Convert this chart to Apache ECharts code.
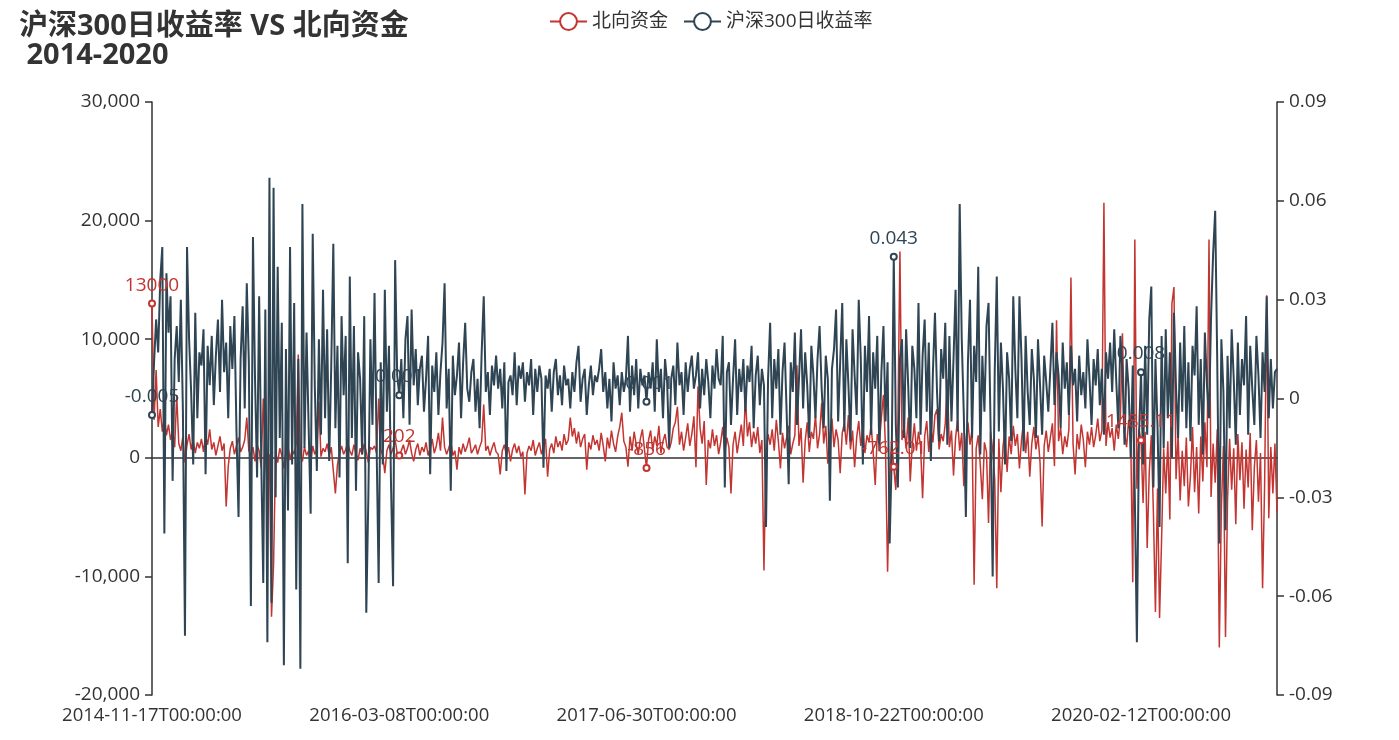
<!DOCTYPE html>
<html>
<head>
<meta charset="utf-8">
<title>沪深300日收益率 VS 北向资金</title>
<script src="https://cdn.jsdelivr.net/npm/echarts/dist/echarts.min.js"></script>
<style>
  html, body { margin: 0; padding: 0; background: #fff; }
  #main { width: 1399px; height: 740px; }
</style>
</head>
<body>
<div id="main"></div>
<script>
// 北向资金 (left axis)
const northbound = [
  13000, 3200, 7400, 2600, 4100, 2200, 3500, 1900, 2800, 1500, 2300, 900,
  5300, 1200, 600, 1800, -400, 1100, 2000, 700, 1500, 400, 1300, 800,
  1600, 500, 1900, 1100, 2400, 700, 1300, 200, 1000, 1800, 600, 1200,
  -4100, -700, 800, 1400, 300, 1000, 1700, 500, 900, 1500, 3400, 600,
  200, 900, -300, 1100, 600, -800, 5000, 400, -2200, 300, -13400, -9000,
  500, -400, 800, 200, -900, 600, 1000, -200, 700, 300, 1200, 8700,
  400, -300, 900, 200, 600, -500, 1000, 300, 700, 4700, 100, 800,
  500, 1200, 200, 900, -1100, -3000, -600, 400, 1000, 300, 700, 1300,
  600, 200, 1100, 400, -200, 800, 300, 1200, 500, -400, 900, 700,
  1000, 400, 5000, 700, 200, -1300, 600, 1100, 300, 800, 1500, 400,
  202, 600, 1100, 300, 800, 1500, 400, -300, 700, 1200, 200, 900,
  500, 1300, 200, 800, 1600, 400, 1000, 2100, 600, 3400, 900, 300,
  800, 1400, 200, 600, -1000, 900, 300, 1200, 500, 1000, 1700, 400,
  700, 1100, 300, 900, 1400, 4500, 600, 1000, 200, 800, 1300, 500,
  300, -1400, 600, 1100, 200, 900, -300, 700, 1200, 400, 1000, 100,
  500, -3100, 400, 1000, 600, 1500, 200, 800, 1300, 300, 900, 1600,
  -1600, 700, 1200, 400, 1800, 900, 1400, 600, 2000, 1100, 1500, 3400,
  1800, 2500, 1200, 2200, 900, 1600, 2000, -1000, 1300, 700, 1900, 1100,
  1500, 600, 2100, 1000, -300, 1700, 800, 2300, 1200, 500, 1800, 2600,
  3800, 1400, 900, -750, 1800, 600, 2200, 1100, 300, 1600, 2400, 700,
  -856, 1500, 2300, 600, 1800, 1000, 2700, 400, 1400, 2000, 900, 700,
  1300, 2500, 3000, 4300, 1100, 2200, 600, 1700, 2900, 1000, 2000, 3500,
  -800, 6000, 2500, 1200, 3100, -2300, 1500, 800, 2400, 1000, 1900, 300,
  1300, 2600, 500, 1700, 900, -3000, 1100, 2200, 400, 1600, 2800, 1000,
  5100, 1800, 3000, 900, 2200, 1200, 2600, 400, 1500, -9500, 600, 2000,
  1100, 2400, 600, 3200, 1400, -900, 2100, 800, 1700, 2700, 300, 1200,
  1900, 7800, 1000, 2500, -2100, 1400, 3000, 500, 2200, 1600, 3600, 800,
  2000, 4600, 1200, 2700, -500, 1800, 3300, 900, 2400, 1500, -1300, 2100,
  2900, 1100, 3600, 700, 2300, -800, 1700, 3100, 1000, 2500, 400, 1900,
  1300, 2800, 500, -2300, 2000, 1200, 3400, 5300, 800, -9600, -1800, 1500,
  -762.01, -2700, 3100, 17400, 1500, 2600, 800, 3400, -2000, 1200, 2900, 600,
  2200, 1000, -3400, 1800, 3100, 500, 2500, 1300, 3600, 4100, 700, 2000,
  1400, 2900, 6600, 900, 2300, -1500, 1700, 3200, 600, 2100, -2400, 1500,
  3000, 1100, 2400, -10700, 800, 1900, -600, -3500, 1300, 500, -5500, 2200,
  700, -1800, -11000, 1600, -2900, 900, 2400, -1200, 1800, 300, 2700, 1000,
  2000, -900, 1500, 3100, 400, 2200, -1600, 1200, 2600, 700, 1900, -400,
  -5800, 1000, 2300, 500, 1700, 2900, -700, 11600, 1400, 2500, 300, 1800,
  900, 2400, 15200, 1200, -1400, 2000, 700, 2800, 1500, -800, 2200, 1100,
  2600, 900, 1900, 3300, 1400, 2300, 21500, 1000, 3000, 1700, 2500, 600,
  2800, 1600, 3500, 10500, 2100, 900, 3200, 1800, -10500, 18400, -2600, 2400,
  1485.11, -3800, 2200, -7600, -1200, 1900, -4500, -13000, -2600, -13500, -6800, 800,
  -3000, 1400, -5200, 13000, 14400, -1800, 2000, -3600, 600, -2400, 1700, -4100,
  -1500, 2600, -2900, 900, -4700, 1800, -2000, 3000, -800, 18400, -3300, 1200,
  -2100, 2400, -16000, -4200, 1000, -15100, -3500, 1600, -2700, 800, -5600, 2000,
  -1900, 1300, -4300, 700, -2500, 2100, -6100, -800, 1500, -3700, 400, -11000,
  -2200, 13700, -5100, 900, -3000, 1200, -4600
];

// 沪深300日收益率 (right axis)
const hs300Return = [
  -0.005, 0.011, 0.024, 0.014, 0.036, 0.046, -0.041, 0.038, 0.02, 0.031, -0.025, 0.012,
  0.022, 0.005, 0.03, -0.004, -0.072, 0.046, 0.018, 0.002, -0.02, 0.026, -0.006, 0.014,
  0.01, 0.021, -0.023, 0.016, 0.004, 0.019, -0.002, 0.013, 0.024, 0.002, 0.03, 0.008,
  0.017, -0.006, 0.022, 0.009, 0.025, -0.01, -0.036, 0.012, 0.028, -0.003, 0.035, 0.011,
  -0.063, 0.049, 0.006, -0.024, 0.031, -0.018, -0.056, 0.027, -0.074, 0.067, -0.062, 0.064,
  -0.03, 0.04, -0.012, 0.023, -0.081, 0.015, -0.034, 0.046, -0.02, 0.029, -0.058, 0.012,
  -0.082, 0.059, -0.015, 0.02, -0.008, -0.035, 0.05, 0.004, -0.022, 0.018, -0.011, 0.033,
  -0.006, 0.021, -0.019, 0.01, 0.047, -0.009, 0.016, -0.024, 0.025, 0.001, 0.019, -0.05,
  0.037, -0.012, 0.022, -0.028, 0.014, 0.006, -0.017, 0.025, -0.065, -0.03, 0.018, -0.008,
  0.032, -0.014, -0.056, 0.011, -0.02, 0.033, -0.004, 0.016, -0.026, -0.057, 0.042, 0.007,
  0.001, 0.012, -0.006, 0.018, 0.025, -0.008, 0.027, 0.004, 0.015, -0.002, 0.009, 0.013,
  -0.004, 0.006, 0.019, -0.023, 0.01, 0.002, 0.014, -0.005, 0.008, 0.017, 0.035, -0.003,
  0.009, -0.028, 0.013, 0.001, 0.007, 0.017, -0.006, 0.011, 0.023, 0.003, -0.001, 0.008,
  0.012, -0.004, 0.006, -0.009, 0.014, 0.031, 0.002, 0.008, -0.005, 0.01, 0.004, 0.013,
  0.003, 0.009, -0.003, 0.011, -0.022, 0.005, 0.007, 0.001, 0.014, -0.002, 0.01, 0.006,
  0.011, -0.001, 0.008, 0.004, 0.012, -0.005, 0.009, 0.002, 0.01, 0.006, -0.021, 0.007,
  0.003, 0.009, -0.004, 0.008, 0.012, 0.001, 0.007, -0.002, 0.01, 0.004, 0.006, -0.003,
  0.008, 0.002, 0.011, 0.016, -0.001, 0.006, 0.009, -0.005, 0.004, 0.01, 0.001, 0.007,
  0.005, 0.009, 0.015, 0.002, 0.008, -0.003, 0.006, -0.007, 0.011, 0.003, 0.007, -0.002,
  0.008, 0.002, 0.006, 0.019, -0.004, 0.01, 0.001, 0.012, -0.003, 0.009, 0.004, 0.007,
  -0.001, 0.008, 0.003, 0.011, -0.004, 0.018, 0.002, 0.009, -0.006, 0.012, 0.005, -0.015,
  0.006, 0.01, -0.002, 0.017, 0.004, 0.008, -0.005, 0.011, 0.002, 0.009, 0.013, 0.003,
  0.007, 0.014, -0.003, 0.009, 0.001, 0.012, 0.005, -0.006, 0.01, 0.003, 0.015, 0.006,
  0.004, 0.019, -0.027, 0.008, 0.011, -0.008, 0.006, 0.018, -0.005, 0.009, 0.002, 0.012,
  -0.004, 0.01, 0.005, 0.016, -0.009, 0.007, 0.013, -0.002, 0.009, 0.004, -0.039, 0.006,
  0.023, -0.006, 0.012, 0.003, 0.015, -0.011, 0.008, 0.017, -0.004, -0.026, 0.011, 0.002,
  0.02, -0.008, 0.006, 0.021, -0.003, 0.014, 0.004, -0.012, 0.016, 0.007, -0.006, 0.012,
  0.022, 0.003, -0.009, 0.013, 0.006, -0.031, 0.009, 0.015, 0.027, -0.007, 0.011, 0.029,
  -0.01, 0.018, 0.004, -0.013, 0.021, 0.007, -0.005, 0.03, 0.012, -0.02, 0.016, 0.002,
  0.025, -0.011, 0.014, 0.003, 0.019, -0.016, 0.008, 0.022, -0.007, 0.011, -0.044, -0.018,
  0.043, -0.008, -0.027, 0.012, 0.018, -0.012, 0.021, 0.004, -0.015, 0.016, 0.009, -0.006,
  0.029, -0.011, 0.013, 0.024, -0.004, 0.017, -0.019, 0.008, 0.026, 0.002, -0.013, 0.015,
  0.006, 0.023, -0.014, 0.019, -0.007, 0.012, 0.033, -0.01, 0.059, 0.018, -0.005, -0.036,
  0.011, 0.03, -0.012, 0.016, 0.005, 0.04, -0.017, 0.013, -0.004, 0.022, 0.029, -0.009,
  -0.054, 0.008, 0.037, -0.01, 0.017, 0.003, -0.02, 0.014, 0.006, -0.013, 0.031, 0.009,
  -0.006, 0.031, 0.012, -0.016, 0.019, 0.002, -0.008, 0.015, 0.006, -0.012, 0.018, 0.004,
  -0.011, 0.013, 0.005, -0.004, 0.009, 0.023, -0.002, 0.014, 0.007, -0.009, 0.017, 0.003,
  0.011, -0.005, 0.016, 0.004, 0.009, -0.007, 0.013, 0.001, 0.008, -0.003, 0.018, 0.006,
  -0.008, 0.012, 0.004, 0.015, -0.002, 0.009, -0.011, 0.014, 0.006, 0.017, 0.002, 0.021,
  0.005, -0.009, 0.019, 0.008, -0.014, 0.012, 0.003, -0.018, 0.01, -0.03, -0.074, -0.012,
  0.008, -0.02, 0.016, -0.011, 0.024, 0.034, -0.027, 0.012, -0.008, -0.039, 0.019, -0.015,
  0.021, -0.006, 0.014, -0.018, 0.026, 0.003, -0.012, 0.017, -0.004, 0.022, -0.009, 0.011,
  -0.013, 0.016, 0.007, 0.028, -0.008, 0.012, -0.017, 0.02, 0.004, -0.006, 0.025, 0.044,
  0.057, 0.011, -0.044, 0.018, 0.002, -0.04, 0.013, -0.009, 0.021, 0.006, -0.014, 0.017,
  -0.005, 0.012, 0.004, 0.025, -0.011, 0.016, 0.003, -0.008, 0.019, 0.007, -0.012, 0.014,
  0.002, 0.031, -0.006, 0.012, -0.003, 0.008, 0.009
];

// dates shown on the x axis, one every 120 points
const labelDates = ['2014-11-17', '2016-03-08', '2017-06-30', '2018-10-22', '2020-02-12'];
const pointsPerLabel = 120;

const categories = [];
for (let i = 0; i < northbound.length; i++) {
  const s = Math.min(Math.floor(i / pointsPerLabel), labelDates.length - 2);
  const a = Date.parse(labelDates[s]);
  const b = Date.parse(labelDates[s + 1]);
  const t = a + (b - a) * (i - s * pointsPerLabel) / pointsPerLabel;
  const d = new Date(Math.round(t / 864e5) * 864e5);
  categories.push(d.toISOString().slice(0, 10) + 'T00:00:00');
}

const font = "'Open Sans', 'Noto Sans CJK SC', sans-serif";
const textColor = '#333';

let myChart = echarts.init(document.getElementById('main'));
let option = {
  animation: false,
  backgroundColor: '#fff',
  color: ['#c23531', '#2f4554'],
  textStyle: { fontFamily: font },
  title: {
    text: '沪深300日收益率 VS 北向资金\n 2014-2020',
    left: 14,
    top: 7,
    textStyle: { fontSize: 29, fontWeight: 'bold', color: textColor, lineHeight: 29, fontFamily: font }
  },
  legend: {
    left: 544,
    top: 7,
    itemWidth: 37,
    itemHeight: 21,
    itemGap: 15,
    textStyle: { fontSize: 19, color: textColor, fontFamily: font },
    data: ['北向资金', '沪深300日收益率']
  },
  grid: {
    left: 152,
    right: 122,
    top: 102,
    bottom: 45,
    containLabel: false,
    outerBoundsMode: 'none'
  },
  xAxis: {
    type: 'category',
    data: categories,
    boundaryGap: false,
    axisLine: { show: true, onZero: true, lineStyle: { color: textColor, width: 1.5 } },
    axisTick: { show: false },
    axisLabel: {
      interval: pointsPerLabel - 1,
      margin: 11,
      fontSize: 18.5,
      color: textColor,
      fontFamily: font
    },
    splitLine: { show: false }
  },
  yAxis: [
    {
      type: 'value',
      min: -20000,
      max: 30000,
      interval: 10000,
      axisLine: { show: true, lineStyle: { color: textColor, width: 1.5 } },
      axisTick: { show: true, length: 7, lineStyle: { color: textColor, width: 1.5 } },
      axisLabel: {
        margin: 12,
        fontSize: 19,
        color: textColor,
        fontFamily: font,
        formatter: v => v.toLocaleString('en-US')
      },
      splitLine: { show: false }
    },
    {
      type: 'value',
      position: 'right',
      min: -0.09,
      max: 0.09,
      interval: 0.03,
      axisLine: { show: true, lineStyle: { color: textColor, width: 1.5 } },
      axisTick: { show: true, length: 7, lineStyle: { color: textColor, width: 1.5 } },
      axisLabel: { margin: 12, fontSize: 19, color: textColor, fontFamily: font },
      splitLine: { show: false }
    }
  ],
  series: [
    {
      name: '北向资金',
      type: 'line',
      yAxisIndex: 0,
      data: northbound,
      symbol: 'emptyCircle',
      symbolSize: 6,
      showSymbol: true,
      lineStyle: { width: 1.5 },
      itemStyle: { borderWidth: 1.5 },
      label: { show: true, position: 'top', fontSize: 19, color: '#c23531', fontFamily: font }
    },
    {
      name: '沪深300日收益率',
      type: 'line',
      yAxisIndex: 1,
      data: hs300Return,
      symbol: 'emptyCircle',
      symbolSize: 6,
      showSymbol: true,
      lineStyle: { width: 2 },
      itemStyle: { borderWidth: 1.5 },
      label: { show: true, position: 'top', fontSize: 19, color: '#2f4554', fontFamily: font }
    }
  ]
};
myChart.setOption(option);
window.onresize = function () {
  myChart.resize();
};
</script>
</body>
</html>
